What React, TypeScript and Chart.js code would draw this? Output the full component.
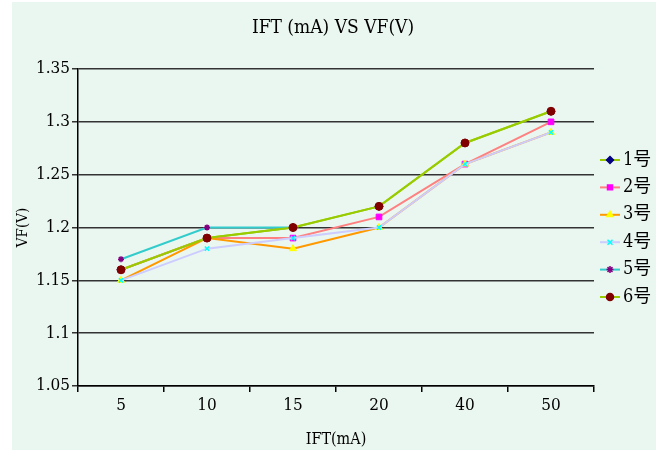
import React, { useEffect, useRef } from "react";
import { Chart, registerables } from "chart.js";
import { drawPoint } from "chart.js/helpers";

Chart.register(...registerables);

const categories = ["5", "10", "15", "20", "40", "50"];
const seriesNames = ["1号", "2号", "3号", "4号", "5号", "6号"];
const s1 = [1.16, 1.19, 1.2, 1.22, 1.28, 1.31];
const s2 = [1.16, 1.19, 1.19, 1.21, 1.26, 1.3];
const s3 = [1.15, 1.19, 1.18, 1.2, 1.26, 1.29];
const s4 = [1.15, 1.18, 1.19, 1.2, 1.26, 1.29];
const s5 = [1.17, 1.2, 1.2, null, null, null];
const s6 = [1.16, 1.19, 1.2, 1.22, 1.28, 1.31];
const yMin = 1.05;
const yMax = 1.35;
const yStep = 0.05;

const titleText = "IFT (mA) VS VF(V)";
const xTitle = "IFT(mA)";
const yTitle = "VF(V)";

const lineColors = ["#99CC00", "#FF8080", "#FF9900", "#CCCCFF", "#33CCCC", "#99CC00"];
const markerColors = ["#000080", "#FF00FF", "#FFFF00", "#00FFFF", "#800080", "#800000"];
const markerStyles = ["rectRot", "rect", "triangle", "crossRot", "star", "circle"];

const FONT = "'DejaVu Serif Condensed', 'Liberation Serif', 'Noto Sans CJK SC', serif";

export default function App() {
  const ref = useRef<HTMLCanvasElement | null>(null);
  useEffect(() => {
    if (!ref.current) return;
    const values = [s1, s2, s3, s4, s5, s6];
    const datasets = values.map((v, i) => ({
      label: seriesNames[i],
      data: v,
      borderColor: lineColors[i],
      backgroundColor: markerColors[i],
      borderWidth: 2,
      pointStyle: markerStyles[i],
      pointRadius: markerStyles[i] === "star" || markerStyles[i] === "crossRot" ? 3 : 4,
      pointBorderColor: markerColors[i],
      pointBackgroundColor: markerColors[i],
      pointBorderWidth: markerStyles[i] === "crossRot" || markerStyles[i] === "star" ? 1.5 : 1,
      tension: 0,
      spanGaps: false,
      order: 6 - i,
    }));

    const overlay = {
      id: "overlay",
      afterDraw(chart: any) {
        const ctx = chart.ctx;
        ctx.save();
        ctx.fillStyle = "#000";
        ctx.textAlign = "center";
        ctx.textBaseline = "middle";
        ctx.font = `19px ${FONT}`;
        ctx.fillText(titleText, 321, 26);
        for (let i = 0; i < seriesNames.length; i++) {
          const y = 158 + 27.4 * i;
          ctx.strokeStyle = lineColors[i];
          ctx.lineWidth = 2;
          ctx.beginPath();
          ctx.moveTo(588, y);
          ctx.lineTo(608, y);
          ctx.stroke();
          ctx.fillStyle = markerColors[i];
          ctx.strokeStyle = markerColors[i];
          ctx.lineWidth = 1.5;
          drawPoint(ctx, { pointStyle: markerStyles[i], radius: 3.5, rotation: 0, borderWidth: 1 } as any, 598, y);
          ctx.fillStyle = "#000";
          ctx.textAlign = "left";
          ctx.font = `18px ${FONT}`;
          ctx.fillText(seriesNames[i], 611, y);
        }
        ctx.restore();
      },
    };

    const chart = new Chart(ref.current, {
      type: "line",
      data: { labels: categories, datasets: datasets as any },
      options: {
        animation: false,
        responsive: false,
        devicePixelRatio: 1,
        layout: { padding: { top: 67, right: 62, left: 0, bottom: 0 } },
        plugins: {
          legend: { display: false },
          title: { display: false },
          tooltip: { enabled: false },
        },
        scales: {
          x: {
            type: "category",
            offset: true,
            grid: {
              display: true,
              offset: true,
              drawOnChartArea: false,
              drawTicks: true,
              tickLength: 6,
              color: "#000",
              lineWidth: 1.5,
            },
            border: { display: true, color: "#000", width: 1.5 },
            ticks: { color: "#000", padding: 3, font: { family: FONT, size: 17 } },
            title: {
              display: true,
              text: xTitle,
              color: "#000",
              font: { family: FONT, size: 16 },
              padding: { top: 2, bottom: 1 },
            },
            afterFit: (s: any) => {
              s.height = 64;
            },
          },
          y: {
            min: yMin,
            max: yMax,
            grid: {
              display: true,
              drawOnChartArea: true,
              tickLength: 6,
              color: "#333",
              lineWidth: 1.5,
            },
            border: { display: true, color: "#000", width: 1.5 },
            ticks: {
              stepSize: yStep,
              color: "#000",
              padding: 2,
              font: { family: FONT, size: 17 },
              callback: (v: any) => String(Number(Number(v).toFixed(2))),
            },
            title: {
              display: true,
              text: yTitle,
              color: "#000",
              font: { family: FONT, size: 15 },
              padding: { top: 2, bottom: 2 },
            },
            afterFit: (s: any) => {
              s.width = 66;
            },
          },
        },
      },
      plugins: [overlay],
    });
    return () => chart.destroy();
  }, []);

  return (
    <div style={{ position: "fixed", left: 0, top: 0, width: 664, height: 450, background: "#fff" }}>
      <div style={{ position: "absolute", left: 12, top: 2, width: 644, height: 448, background: "#EAF6F0" }}>
        <canvas ref={ref} width={644} height={448} style={{ display: "block" }} />
      </div>
    </div>
  );
}
